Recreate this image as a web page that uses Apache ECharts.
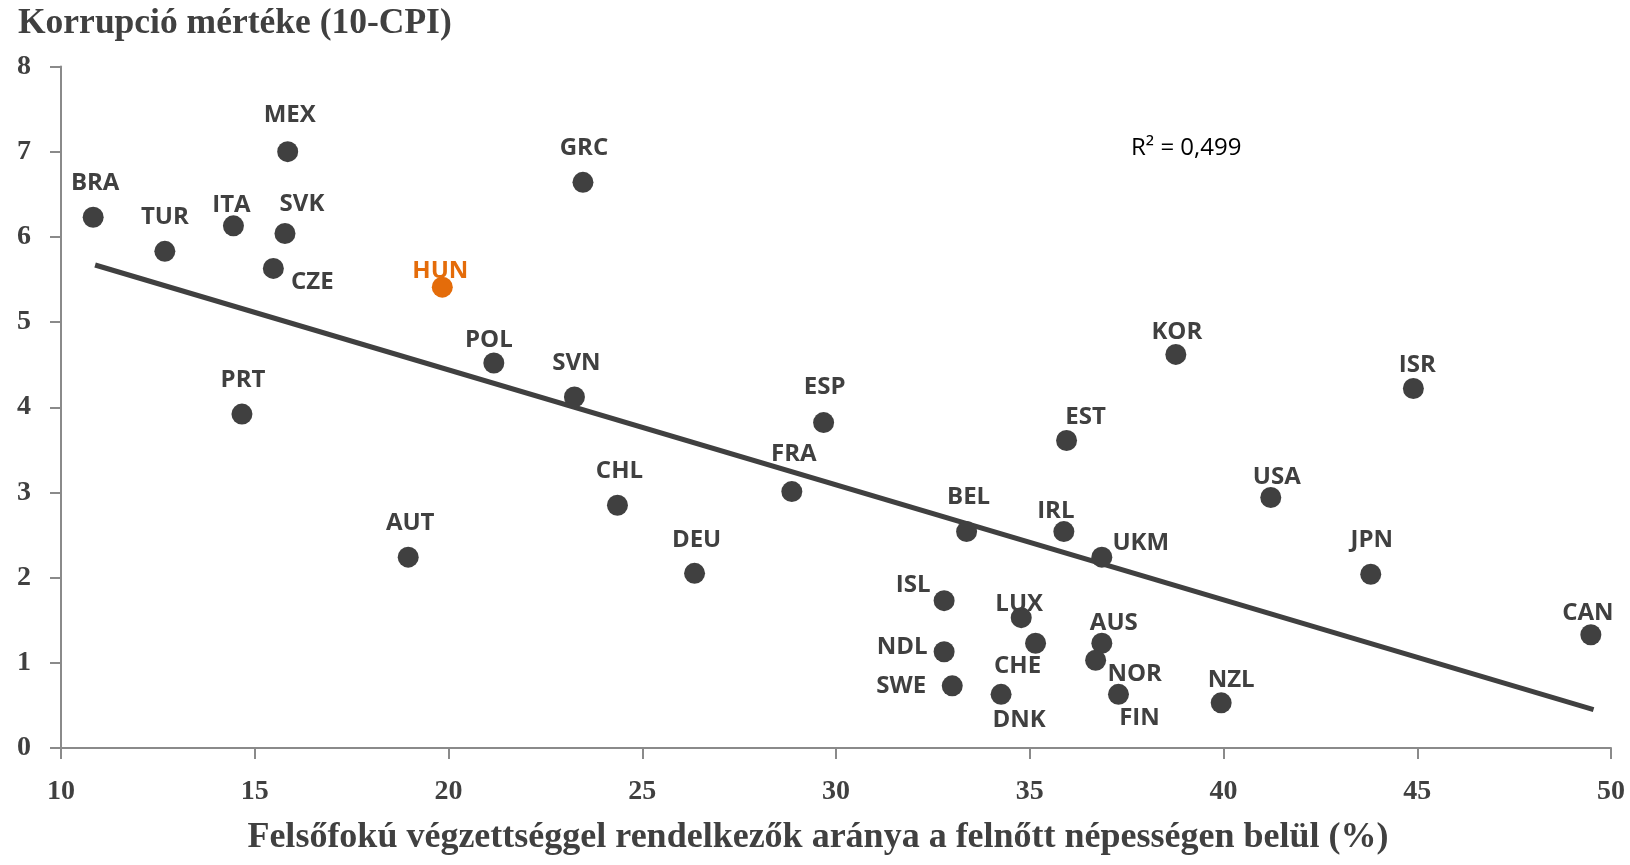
<!DOCTYPE html>
<html>
<head>
<meta charset="utf-8">
<script src="https://cdn.jsdelivr.net/npm/echarts@6/dist/echarts.min.js"></script>
<style>
html,body{margin:0;padding:0;background:#fff;}
#chart{width:1630px;height:865px;}
</style>
</head>
<body>
<div id="chart"></div>
<script>
// ---- data ----
const countries = ['BRA','TUR','ITA','SVK','MEX','CZE','HUN','PRT','AUT','POL','GRC','SVN','CHL','DEU','ESP','FRA','BEL','ISL','NDL','SWE','LUX','CHE','DNK','IRL','EST','UKM','AUS','NOR','FIN','KOR','NZL','USA','JPN','ISR','CAN'];
const tertiaryShare = [10.83,12.68,14.45,15.78,15.85,15.48,19.84,14.67,18.96,21.17,23.47,23.25,24.36,26.35,29.68,28.86,33.37,32.79,32.79,33.00,34.78,35.15,34.26,35.88,35.95,36.86,36.86,36.70,37.29,38.77,39.94,41.22,43.80,44.90,49.48];
const corruption = [6.23,5.83,6.13,6.04,7.00,5.63,5.41,3.92,2.24,4.52,6.64,4.12,2.85,2.05,3.82,3.01,2.54,1.73,1.13,0.73,1.53,1.23,0.63,2.54,3.61,2.24,1.23,1.03,0.63,4.62,0.53,2.94,2.04,4.22,1.33];
const trendX = [10.88, 49.55];
const trendY = [5.67, 0.45];
const xTicks = [10,15,20,25,30,35,40,45,50];
const yTicks = [0,1,2,3,4,5,6,7,8];
const highlighted = 'HUN';
const r2Text = 'R² = 0,499';
const yTitle = 'Korrupció mértéke (10-CPI)';
const xTitle = 'Felsőfokú végzettséggel rendelkezők aránya a felnőtt népességen belül (%)';

// ---- label placement (style, pixel offsets from dot centre) ----
const labelOffset = {
  BRA:[2,-34], TUR:[0,-34], ITA:[-2,-21], SVK:[17,-29], MEX:[2,-37], CZE:[39,14],
  HUN:[-2,-16], PRT:[1,-34], AUT:[2,-34], POL:[-5,-23], GRC:[1,-34], SVN:[2,-34],
  CHL:[2,-34], DEU:[2,-33], ESP:[1,-35], FRA:[2,-37], BEL:[2,-34], ISL:[-31,-15],
  NDL:[-42,-5], SWE:[-51,0], LUX:[-2,-14], CHE:[-18,23], DNK:[18,26], IRL:[-8,-20],
  EST:[19,-23], UKM:[39,-14], AUS:[12,-20], NOR:[39,14], FIN:[21,24], KOR:[1,-22],
  NZL:[10,-23], USA:[6,-20], JPN:[1,-34], ISR:[4,-23], CAN:[-3,-22]
};

const dark = '#404040';
const orange = '#E46C0A';
const axisGrey = '#8a8a8a';

const pointData = countries.map((c, i) => ({
  name: c,
  value: [tertiaryShare[i], corruption[i]],
  itemStyle: { color: c === highlighted ? orange : dark, opacity: 1 },
  label: {
    offset: labelOffset[c] || [0, -30],
    color: c === highlighted ? orange : dark
  }
}));

const trendData = trendX.map((x, i) => [x, trendY[i]]);

const chart = echarts.init(document.getElementById('chart'), null, {renderer: 'canvas'});
chart.setOption({
  animation: false,
  backgroundColor: '#fff',
  grid: { left: 61, right: 19, top: 66.5, bottom: 117, containLabel: false },
  xAxis: {
    type: 'value',
    min: xTicks[0], max: xTicks[xTicks.length - 1], interval: xTicks[1] - xTicks[0],
    axisLine: { show: true, onZero: false, lineStyle: { color: axisGrey, width: 2 } },
    axisTick: { show: true, inside: false, length: 11, lineStyle: { color: axisGrey, width: 2 } },
    splitLine: { show: false },
    axisLabel: { margin: 30, color: dark, fontFamily: 'Liberation Serif', fontWeight: 'bold', fontSize: 28 }
  },
  yAxis: {
    type: 'value',
    min: yTicks[0], max: yTicks[yTicks.length - 1], interval: yTicks[1] - yTicks[0],
    axisLine: { show: true, onZero: false, lineStyle: { color: axisGrey, width: 2 } },
    axisTick: { show: true, inside: false, length: 11, lineStyle: { color: axisGrey, width: 2 } },
    splitLine: { show: false },
    axisLabel: { margin: 30, color: dark, fontFamily: 'Liberation Serif', fontWeight: 'bold', fontSize: 28 }
  },
  series: [
    {
      type: 'line',
      data: trendData,
      symbol: 'none',
      lineStyle: { color: dark, width: 5, opacity: 1 },
      z: 2,
      silent: true
    },
    {
      type: 'scatter',
      data: pointData,
      symbol: 'circle',
      symbolSize: 21,
      z: 3,
      itemStyle: { opacity: 1 },
      label: {
        show: true,
        position: 'inside',
        formatter: '{b}',
        fontFamily: 'Open Sans',
        fontWeight: 'bold',
        fontSize: 24,
        opacity: 1
      }
    }
  ],
  graphic: [
    {
      type: 'text', x: 18, y: 24,
      style: { text: yTitle, fill: dark, fontFamily: 'Liberation Serif', fontWeight: 'bold', fontSize: 35.5, align: 'left', verticalAlign: 'middle' }
    },
    {
      type: 'text', x: 818, y: 838,
      style: { text: xTitle, fill: dark, fontFamily: 'Liberation Serif', fontWeight: 'bold', fontSize: 36, align: 'center', verticalAlign: 'middle' }
    },
    {
      type: 'text', x: 1131, y: 148,
      style: { text: r2Text, fill: '#000', fontFamily: 'Open Sans', fontWeight: 'normal', fontSize: 24, align: 'left', verticalAlign: 'middle' }
    }
  ]
});
</script>
</body>
</html>
